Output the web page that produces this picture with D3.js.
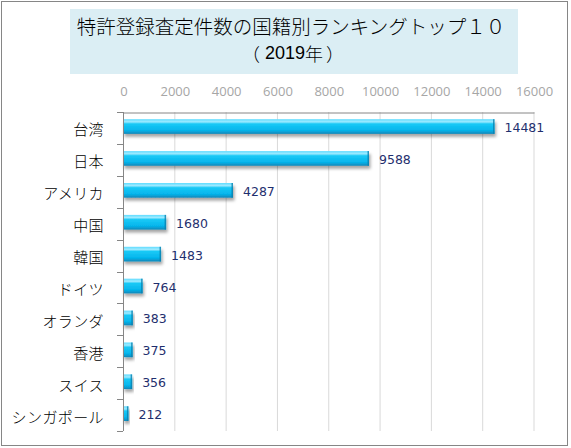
<!DOCTYPE html>
<html>
<head>
<meta charset="utf-8">
<script src="https://cdn.jsdelivr.net/npm/d3@7/dist/d3.min.js"></script>
<style>
  body { margin: 0; background: #fff; }
  svg { display: block; }
</style>
</head>
<body>
<script>
var countries = ['台湾', '日本', 'アメリカ', '中国', '韓国', 'ドイツ', 'オランダ', '香港', 'スイス', 'シンガポール'];
var counts = [14481, 9588, 4287, 1680, 1483, 764, 383, 375, 356, 212];
var xTicks = [0, 2000, 4000, 6000, 8000, 10000, 12000, 14000, 16000];
var titleLine1 = '特許登録査定件数の国籍別ランキングトップ１０';
var titleLine2 = ['（', '2019', '年', '）'];

var width = 571;
var height = 448;
var plotLeft = 123, plotRight = 533.5, plotTop = 112, plotBottom = 431;

var svg = d3.select('body')
	.append('svg')
	.attr('width', width)
	.attr('height', height);

var defs = svg.append('defs');
var grad = defs.append('linearGradient')
	.attr('id', 'barGrad')
	.attr('x1', 0).attr('y1', 0).attr('x2', 0).attr('y2', 1);
grad.append('stop').attr('offset', '0%').attr('stop-color', '#5fdcff');
grad.append('stop').attr('offset', '18%').attr('stop-color', '#9eeaff');
grad.append('stop').attr('offset', '32%').attr('stop-color', '#19c9f6');
grad.append('stop').attr('offset', '75%').attr('stop-color', '#05b5ec');
grad.append('stop').attr('offset', '100%').attr('stop-color', '#0a86b8');

var shadow = defs.append('filter')
	.attr('id', 'shadow')
	.attr('x', '-10%').attr('y', '-30%').attr('width', '130%').attr('height', '200%');
shadow.append('feDropShadow')
	.attr('dx', 1.5).attr('dy', 3)
	.attr('stdDeviation', 1.6)
	.attr('flood-color', '#000')
	.attr('flood-opacity', 0.35);

// outer frame
svg.append('rect')
	.attr('x', 1.5).attr('y', 1.5)
	.attr('width', 566).attr('height', 444)
	.attr('fill', '#fff')
	.attr('stroke', '#868686')
	.attr('stroke-width', 1);

// title
svg.append('rect')
	.attr('x', 70).attr('y', 9)
	.attr('width', 448).attr('height', 65)
	.attr('fill', '#dbeef4');
svg.append('text')
	.attr('x', 291).attr('y', 25)
	.attr('text-anchor', 'middle')
	.attr('dominant-baseline', 'central')
	.style('font-family', '"Noto Sans CJK JP"')
	.style('font-size', '19.5px')
	.style('font-weight', 300)
	.attr('fill', '#000')
	.text(titleLine1);
var t2 = svg.append('text')
	.attr('x', 293).attr('y', 53)
	.attr('text-anchor', 'middle')
	.attr('dominant-baseline', 'central')
	.style('font-size', '18px')
	.attr('fill', '#000');
t2.append('tspan')
	.style('font-family', '"Noto Sans CJK JP"')
	.style('font-weight', 300)
	.text(titleLine2[0]);
t2.append('tspan')
	.attr('dx', 5)
	.style('font-family', '"Liberation Sans"')
	.text(titleLine2[1]);
t2.append('tspan')
	.style('font-family', '"Noto Sans CJK JP"')
	.style('font-weight', 300)
	.text(titleLine2[2]);
t2.append('tspan')
	.attr('dx', 3)
	.style('font-family', '"Noto Sans CJK JP"')
	.style('font-weight', 300)
	.text(titleLine2[3]);

var x = d3.scaleLinear()
	.domain([0, 16000])
	.range([plotLeft, plotRight]);
var y = d3.scaleBand()
	.domain(countries)
	.range([plotTop, plotBottom]);

// gridlines
svg.append('g')
	.selectAll('line')
	.data(xTicks.slice(1))
	.enter()
	.append('line')
	.attr('x1', (d) => x(d) + 0.5)
	.attr('x2', (d) => x(d) + 0.5)
	.attr('y1', plotTop)
	.attr('y2', plotBottom)
	.attr('stroke', '#d9d9d9')
	.attr('stroke-width', 1);

// top axis
var xAxis = svg.append('g')
	.attr('transform', 'translate(0.5,' + (plotTop + 0.5) + ')')
	.call(d3.axisTop(x).tickValues(xTicks).tickSize(0).tickPadding(17).tickFormat(d3.format('d')));
xAxis.select('.domain').attr('stroke', '#868686');
xAxis.selectAll('text')
	.style('font-family', '"Open Sans"')
	.style('font-size', '13px')
	.attr('fill', '#a6a6a6');

// bars
var bh = y.bandwidth() * 0.46;
svg.append('g')
	.selectAll('rect')
	.data(counts)
	.enter()
	.append('rect')
	.attr('x', x(0))
	.attr('y', (d, i) => y(countries[i]) + 7.2)
	.attr('width', (d) => x(d) - x(0))
	.attr('height', bh)
	.attr('fill', 'url(#barGrad)')
	.attr('filter', 'url(#shadow)');

// bar end caps
svg.append('g')
	.selectAll('rect')
	.data(counts)
	.enter()
	.append('rect')
	.attr('x', (d) => x(d) - 1.5)
	.attr('y', (d, i) => y(countries[i]) + 7.2)
	.attr('width', 1.5)
	.attr('height', bh)
	.attr('fill', '#0a7fae')
	.attr('opacity', 0.8);

// value labels
svg.append('g')
	.selectAll('text')
	.data(counts)
	.enter()
	.append('text')
	.attr('x', (d) => x(d) + 10)
	.attr('y', (d, i) => y(countries[i]) + 7.2 + bh / 2 + 1)
	.attr('dominant-baseline', 'central')
	.style('font-family', '"DejaVu Sans"')
	.style('font-size', '12.5px')
	.attr('fill', '#1f2f6e')
	.text((d) => d);

// category axis
var yAxis = svg.append('g');
yAxis.append('line')
	.attr('x1', plotLeft + 0.5).attr('x2', plotLeft + 0.5)
	.attr('y1', plotTop).attr('y2', plotBottom)
	.attr('stroke', '#868686');
yAxis.selectAll('.tick')
	.data(countries.map((c) => y(c)).concat([plotBottom]))
	.enter()
	.append('line')
	.attr('class', 'tick')
	.attr('x1', plotLeft - 6).attr('x2', plotLeft)
	.attr('y1', (d) => Math.round(d) + 0.5)
	.attr('y2', (d) => Math.round(d) + 0.5)
	.attr('stroke', '#868686');
yAxis.selectAll('text')
	.data(countries)
	.enter()
	.append('text')
	.attr('x', 104)
	.attr('y', (d) => y(d) + y.bandwidth() / 2 + 1)
	.attr('text-anchor', 'end')
	.attr('dominant-baseline', 'central')
	.style('font-family', '"Noto Sans CJK JP"')
	.style('font-size', '15px')
	.style('font-weight', 300)
	.style('letter-spacing', '0.4px')
	.attr('fill', '#000')
	.text((d) => d);
</script>
</body>
</html>
